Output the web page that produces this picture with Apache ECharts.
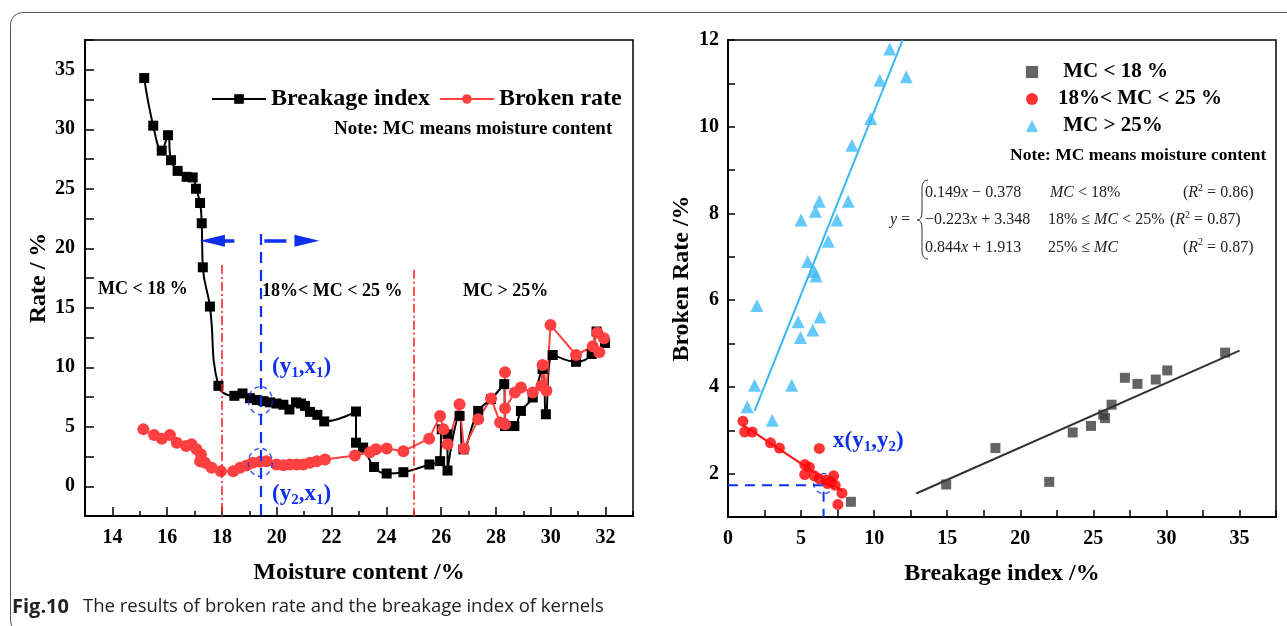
<!DOCTYPE html>
<html>
<head>
<meta charset="utf-8">
<script src="https://cdn.jsdelivr.net/npm/echarts@6/dist/echarts.min.js"></script>
<style>
  html, body { margin: 0; padding: 0; background: #fff; }
  #chart { width: 1287px; height: 626px; }
</style>
</head>
<body>
<div id="chart"></div>
<script>
// ---- Left panel: rate vs. moisture content ----
const breakageMC  = [15.16, 15.49, 15.80, 16.03, 16.14, 16.38, 16.71, 16.93, 17.05, 17.20, 17.26, 17.30, 17.56, 17.87,
                     18.45, 18.75, 19.02, 19.27, 19.51, 19.75, 19.99, 20.24, 20.46, 20.70, 20.88, 21.03, 21.21, 21.48, 21.73,
                     22.89, 22.89, 23.15, 23.55, 24.01, 24.62, 25.57, 25.96, 26.02, 26.23, 26.23, 26.67, 26.81, 27.35, 27.82,
                     28.30, 28.33, 28.67, 28.91, 29.34, 29.70, 29.82, 30.07, 30.92, 31.49, 31.67, 31.98];
const breakageIdx = [34.3, 30.3, 28.2, 29.5, 27.4, 26.5, 26.0, 25.95, 25.0, 23.8, 22.1, 18.4, 15.1, 8.44,
                     7.6, 7.8, 7.4, 7.25, 7.15, 7.05, 6.95, 6.85, 6.45, 7.05, 6.95, 6.75, 6.25, 6.0, 5.45,
                     6.28, 3.66, 3.25, 1.62, 1.07, 1.18, 1.83, 2.11, 4.78, 4.36, 1.32, 5.91, 3.1, 6.33, 7.32,
                     8.58, 5.06, 5.06, 6.33, 7.46, 9.85, 6.05, 11.03, 10.46, 11.11, 13.0, 12.04];
const brokenMC    = [15.13, 15.52, 15.80, 16.10, 16.35, 16.69, 16.89, 17.07, 17.23, 17.20, 17.38, 17.62, 17.96, 18.41,
                     18.66, 18.90, 19.12, 19.39, 19.63, 19.99, 20.24, 20.48, 20.73, 20.97, 21.21, 21.46, 21.76, 22.85,
                     23.40, 23.62, 24.01, 24.62, 25.56, 25.96, 26.08, 26.23, 26.67, 26.83, 27.35, 27.82, 28.15, 28.33,
                     28.33, 28.33, 28.69, 28.91, 29.34, 29.66, 29.70, 29.84, 29.99, 30.92, 31.53, 31.70, 31.94, 31.77];
const brokenRate  = [4.78, 4.3, 4.0, 4.3, 3.66, 3.38, 3.52, 3.1, 2.68, 2.11, 1.97, 1.55, 1.27, 1.27,
                     1.55, 1.75, 1.97, 2.06, 2.11, 1.83, 1.77, 1.83, 1.83, 1.83, 1.97, 2.11, 2.25, 2.59,
                     2.85, 3.1, 3.18, 2.95, 4.0, 5.91, 4.78, 3.52, 6.9, 3.16, 5.63, 7.38, 5.35, 5.2,
                     9.57, 6.53, 7.88, 8.3, 7.88, 8.44, 10.19, 8.02, 13.56, 11.03, 11.76, 12.89, 12.44, 11.26];

const mcBounds    = [18, 25];          // moisture-content class limits
const boundTops   = [18.6, 18.2];      // upper end of the limit lines
const refMC       = 19.4;              // x1
const refValues   = [7.2, 2.0];        // y1 (breakage index), y2 (broken rate)
const refLineTop  = 21.2;
const arrowSpan   = [17.65, 21.1];
const arrowLevel  = 20.63;
const leftXLabels = [14, 16, 18, 20, 22, 24, 26, 28, 30, 32];

// ---- Right panel: broken rate vs. breakage index ----
const lowIdx  = [8.41, 14.93, 18.3, 21.98, 23.59, 24.84, 25.68, 25.8, 26.25, 27.16, 28.02, 29.27, 30.06, 34.02];
const lowRate = [1.35, 1.75, 2.59, 1.81, 2.95, 3.10, 3.36, 3.28, 3.59, 4.21, 4.07, 4.17, 4.38, 4.79];
const midIdx  = [1.02, 1.14, 1.66, 2.91, 3.52, 6.25, 5.25, 5.57, 5.25, 5.91, 6.25, 6.71, 7.23, 7.05, 7.34, 6.82, 7.80, 7.52];
const midRate = [3.21, 2.96, 2.96, 2.71, 2.59, 2.58, 2.21, 2.15, 1.98, 1.95, 1.88, 1.85, 1.95, 1.81, 1.73, 1.77, 1.55, 1.29];
const highIdx  = [11.07, 12.2, 10.39, 9.77, 8.48, 8.23, 6.25, 5.98, 5.0, 7.46, 6.86, 5.45, 5.91, 6.02, 1.98,
                  4.8, 6.3, 5.8, 4.96, 1.82, 4.36, 1.32, 3.03];
const highRate = [11.79, 11.15, 11.07, 10.19, 9.57, 8.28, 8.28, 8.05, 7.85, 7.85, 7.36, 6.89, 6.66, 6.56, 5.88,
                  5.50, 5.61, 5.31, 5.14, 4.04, 4.04, 3.54, 3.23];

const fitSlopes     = [0.149, -0.223, 0.844];
const fitIntercepts = [-0.378, 3.348, 1.913];
const fitRanges     = [[12.88, 35], [1.0, 7.8], [1.82, 11.95]];
const refPoint      = [6.54, 1.73];    // x(y1, y2)

const serif = '"Liberation Serif", "Times New Roman", serif';
const blue = '#1030f0';

const pairs = (xs, ys) => xs.map((x, i) => [x, ys[i]]);
const fitLine = k => fitRanges[k].map(x => [x, fitSlopes[k] * x + fitIntercepts[k]]);

const axisText = { fontSize: 20, fontWeight: 'bold', color: '#000', fontFamily: serif };
const nameText = { fontSize: 24, fontWeight: 'bold', color: '#000', fontFamily: serif };
const axisLineStyle = { show: true, onZero: false, lineStyle: { color: '#000', width: 2 } };
const tickLine = { color: '#000', width: 1.5 };

const dashDot = [9, 3, 2, 3];

function eqRich() {
  return {
    n: { fontSize: 16, fontFamily: serif, fill: '#222', lineHeight: 20, verticalAlign: 'middle' },
    i: { fontSize: 16, fontFamily: serif, fontStyle: 'italic', fill: '#222', lineHeight: 20, verticalAlign: 'middle' },
    p: { fontSize: 10, fontFamily: serif, fill: '#222', verticalAlign: 'top' }
  };
}
function eqText(x, y, text) {
  return { type: 'text', x: x, y: y, style: { text: text, verticalAlign: 'middle', rich: eqRich() } };
}
function subRich() {
  return {
    b: { fontSize: 23, fontWeight: 'bold', fontFamily: serif, fill: blue, lineHeight: 28, verticalAlign: 'middle' },
    s: { fontSize: 15, fontWeight: 'bold', fontFamily: serif, fill: blue, verticalAlign: 'bottom' }
  };
}
// left brace of the piecewise formula
const braceStyle = { fill: 'none', stroke: '#333', lineWidth: 1 };
const brace = [
  { type: 'bezierCurve', shape: { x1: 928, y1: 180, cpx1: 922, cpy1: 180, x2: 922, y2: 188 }, style: braceStyle },
  { type: 'line', shape: { x1: 922, y1: 188, x2: 922, y2: 212 }, style: braceStyle },
  { type: 'bezierCurve', shape: { x1: 922, y1: 212, cpx1: 922, cpy1: 220, x2: 917, y2: 220 }, style: braceStyle },
  { type: 'bezierCurve', shape: { x1: 917, y1: 220, cpx1: 922, cpy1: 220, x2: 922, y2: 228 }, style: braceStyle },
  { type: 'line', shape: { x1: 922, y1: 228, x2: 922, y2: 251 }, style: braceStyle },
  { type: 'bezierCurve', shape: { x1: 922, y1: 251, cpx1: 922, cpy1: 259, x2: 928, y2: 259 }, style: braceStyle }
];

const leftRect = { left: 85, top: 40, width: 548, height: 476 };

const option = {
  animation: false,
  backgroundColor: '#fff',
  textStyle: { fontFamily: serif },
  grid: [
    Object.assign({ show: true, borderColor: '#000', borderWidth: 1.5, backgroundColor: 'transparent' }, leftRect),
    { left: 728, top: 40, width: 548, height: 477, show: true, borderColor: '#000', borderWidth: 1.5, backgroundColor: 'transparent' },
    // overlay grid carrying the long ticks at the labelled moisture values
    Object.assign({ show: false }, leftRect)
  ],
  xAxis: [
    {
      gridIndex: 0, type: 'value', min: 13, max: 33, interval: 1,
      name: 'Moisture content /%', nameLocation: 'middle', nameGap: 45, nameTextStyle: nameText,
      axisLine: axisLineStyle,
      axisTick: { inside: true, length: 5, lineStyle: tickLine },
      axisLabel: Object.assign({ margin: 12, formatter: v => (leftXLabels.includes(v) ? String(v) : '') }, axisText),
      splitLine: { show: false }
    },
    {
      gridIndex: 1, type: 'value', min: 0, max: 37.5, interval: 2.5,
      name: 'Breakage index /%', nameLocation: 'middle', nameGap: 45, nameTextStyle: nameText,
      axisLine: axisLineStyle,
      axisTick: { inside: true, length: 7, lineStyle: tickLine },
      axisLabel: Object.assign({ margin: 12, formatter: v => (v % 5 === 0 && v <= 35 ? String(v) : '') }, axisText),
      splitLine: { show: false }
    },
    {
      gridIndex: 2, type: 'value', min: 13, max: 33, position: 'bottom',
      axisLine: { show: false, onZero: false },
      axisTick: { inside: true, length: 9, customValues: leftXLabels, lineStyle: tickLine },
      axisLabel: { show: false },
      splitLine: { show: false }
    }
  ],
  yAxis: [
    {
      gridIndex: 0, type: 'value', min: -2.5, max: 37.5, interval: 2.5,
      name: 'Rate / %', nameLocation: 'middle', nameGap: 34, nameTextStyle: nameText,
      axisLine: axisLineStyle,
      axisTick: { inside: true, length: 9, lineStyle: tickLine },
      axisLabel: Object.assign({ margin: 10, formatter: v => (v >= 0 && v <= 35 && v % 5 === 0 ? String(v) : '') }, axisText),
      splitLine: { show: false }
    },
    {
      gridIndex: 1, type: 'value', min: 1, max: 12, interval: 1,
      name: 'Broken Rate /%', nameLocation: 'middle', nameGap: 34, nameTextStyle: nameText,
      axisLine: axisLineStyle,
      axisTick: { inside: true, length: 7, lineStyle: tickLine },
      axisLabel: Object.assign({ margin: 9, formatter: v => (v % 2 === 0 ? String(v) : '') }, axisText),
      splitLine: { show: false }
    },
    { gridIndex: 2, type: 'value', min: -2.5, max: 37.5, show: false }
  ],
  legend: [
    {
      data: ['Breakage index', 'Broken rate'],
      left: 206, top: 82, itemWidth: 54, itemHeight: 12, itemGap: 9,
      textStyle: { fontSize: 24, fontWeight: 'bold', color: '#000', fontFamily: serif, lineHeight: 24 }
    },
    {
      data: ['MC < 18 %', '18%< MC < 25 %', 'MC > 25%'],
      orient: 'vertical', left: 1021, top: 56, itemWidth: 12, itemHeight: 12, itemGap: 5,
      formatter: n => (n === '18%< MC < 25 %' ? n : ' ' + n),
      textStyle: { fontSize: 21, fontWeight: 'bold', color: '#000', fontFamily: serif, lineHeight: 22, padding: [0, 0, 0, 15] }
    }
  ],
  series: [
    {
      name: 'Breakage index', type: 'line', xAxisIndex: 0, yAxisIndex: 0,
      data: pairs(breakageMC, breakageIdx),
      smooth: 0.45, symbol: 'rect', symbolSize: 10,
      itemStyle: { color: '#000' }, lineStyle: { color: '#000', width: 2 },
      markLine: {
        silent: true, symbol: ['none', 'none'], label: { show: false },
        data: [
          [{ coord: [mcBounds[0], boundTops[0]], lineStyle: { color: '#ff1a1a', width: 1.5, type: dashDot } }, { coord: [mcBounds[0], -2.5] }],
          [{ coord: [mcBounds[1], boundTops[1]], lineStyle: { color: '#ff1a1a', width: 1.5, type: dashDot } }, { coord: [mcBounds[1], -2.5] }],
          [{ coord: [refMC, refLineTop], lineStyle: { color: blue, width: 2.2, type: [11, 7] } }, { coord: [refMC, -2.5] }],
          [{ coord: [arrowSpan[0], arrowLevel], symbol: 'triangle', symbolSize: [12, 25],
             lineStyle: { color: blue, width: 3.5, type: [22, 30] } },
           { coord: [arrowSpan[1], arrowLevel], symbol: 'triangle', symbolSize: [12, 25] }]
        ]
      }
    },
    {
      name: 'Broken rate', type: 'line', xAxisIndex: 0, yAxisIndex: 0,
      data: pairs(brokenMC, brokenRate),
      symbol: 'circle', symbolSize: 12,
      itemStyle: { color: '#ff4040' }, lineStyle: { color: '#ff4040', width: 2 }
    },
    {
      name: 'refRings', type: 'scatter', xAxisIndex: 0, yAxisIndex: 0, silent: true,
      data: refValues.map(v => [refMC, v]),
      symbol: 'circle', symbolSize: [24, 28], z: 5,
      itemStyle: { color: 'rgba(0,0,0,0)', borderColor: blue, borderWidth: 1.5, borderType: [5, 4] }
    },
    {
      name: 'MC > 25%', type: 'scatter', xAxisIndex: 1, yAxisIndex: 1,
      data: pairs(highIdx, highRate), symbol: 'triangle', symbolSize: 13,
      itemStyle: { color: '#3fbcf7' }
    },
    {
      name: 'refGuide', type: 'line', xAxisIndex: 1, yAxisIndex: 1, silent: true, symbol: 'none',
      data: [[0, refPoint[1]], refPoint, [refPoint[0], 1]],
      lineStyle: { color: blue, width: 2, type: [10, 7] }
    },
    {
      name: 'refCircle', type: 'scatter', xAxisIndex: 1, yAxisIndex: 1, silent: true,
      data: [[refPoint[0], refPoint[1] + 0.04]], symbolSize: 20,
      itemStyle: { color: 'rgba(0,0,0,0)', borderColor: blue, borderWidth: 1.5, borderType: [5, 4] }
    },
    {
      name: '18%< MC < 25 %', type: 'scatter', xAxisIndex: 1, yAxisIndex: 1,
      data: pairs(midIdx, midRate), symbol: 'circle', symbolSize: 11,
      itemStyle: { color: '#ff0000' }
    },
    {
      name: 'MC < 18 %', type: 'scatter', xAxisIndex: 1, yAxisIndex: 1,
      data: pairs(lowIdx, lowRate), symbol: 'rect', symbolSize: 10,
      itemStyle: { color: '#3d3d3d' }
    },
    { name: 'fitLow', type: 'line', xAxisIndex: 1, yAxisIndex: 1, silent: true, symbol: 'none',
      data: fitLine(0), lineStyle: { color: '#333', width: 2 } },
    { name: 'fitMid', type: 'line', xAxisIndex: 1, yAxisIndex: 1, silent: true, symbol: 'none',
      data: fitLine(1), lineStyle: { color: '#ff1010', width: 2 } },
    { name: 'fitHigh', type: 'line', xAxisIndex: 1, yAxisIndex: 1, silent: true, symbol: 'none',
      data: fitLine(2), lineStyle: { color: '#3ab7f5', width: 2 } }
  ],
  graphic: [
    // figure frame
    { type: 'rect', shape: { x: 10.5, y: 12.5, width: 1400, height: 620, r: 12 },
      style: { fill: 'none', stroke: '#555', lineWidth: 1 }, silent: true, z: -1 },

    // left panel annotations
    { type: 'text', x: 334, y: 129, style: { text: 'Note: MC means moisture content', font: 'bold 19px ' + serif, fill: '#000', verticalAlign: 'middle' } },
    { type: 'text', x: 98, y: 289, style: { text: 'MC < 18 %', font: 'bold 18px ' + serif, fill: '#000', verticalAlign: 'middle' } },
    { type: 'text', x: 262, y: 291, style: { text: '18%< MC < 25 %', font: 'bold 18px ' + serif, fill: '#000', verticalAlign: 'middle' } },
    { type: 'text', x: 463, y: 291, style: { text: 'MC > 25%', font: 'bold 18px ' + serif, fill: '#000', verticalAlign: 'middle' } },
    { type: 'text', x: 272, y: 367, style: { text: '{b|(y}{s|1}{b|,x}{s|1}{b|)}', verticalAlign: 'middle', rich: subRich() } },
    { type: 'text', x: 272, y: 494, style: { text: '{b|(y}{s|2}{b|,x}{s|1}{b|)}', verticalAlign: 'middle', rich: subRich() } },

    // right panel annotations
    { type: 'text', x: 1010, y: 155, style: { text: 'Note: MC means moisture content', font: 'bold 17.5px ' + serif, fill: '#000', verticalAlign: 'middle' } },
    { type: 'text', x: 833, y: 441, style: { text: '{b|x(y}{s|1}{b|,y}{s|2}{b|)}', verticalAlign: 'middle', rich: subRich() } },

    // piecewise regression
    { type: 'text', x: 890, y: 220, style: { text: '{i|y}{n| =}', verticalAlign: 'middle', rich: eqRich() } },
    ...brace,
    eqText(925, 193, '{n|0.149}{i|x}{n| − 0.378}'),
    eqText(1050, 193, '{i|MC}{n| < 18%}'),
    eqText(1183, 193, '{n|(}{i|R}{p|2}{n| = 0.86)}'),
    eqText(925, 220, '{n|−0.223}{i|x}{n| + 3.348}'),
    eqText(1048, 220, '{n|18% ≤ }{i|MC}{n| < 25%}'),
    eqText(1170, 220, '{n|(}{i|R}{p|2}{n| = 0.87)}'),
    eqText(925, 247.5, '{n|0.844}{i|x}{n| + 1.913}'),
    eqText(1048, 247.5, '{n|25% ≤ }{i|MC}'),
    eqText(1183, 247.5, '{n|(}{i|R}{p|2}{n| = 0.87)}'),

    // caption
    { type: 'text', x: 12, y: 607, style: { text: 'Fig.10', font: 'bold 20px "Open Sans", sans-serif', fill: '#222', verticalAlign: 'middle' } },
    { type: 'text', x: 83, y: 607, style: { text: 'The results of broken rate and the breakage index of kernels', font: '18.5px "Open Sans", sans-serif', fill: '#222', verticalAlign: 'middle' } }
  ]
};

const chart = echarts.init(document.getElementById('chart'));
chart.setOption(option);
</script>
</body>
</html>
